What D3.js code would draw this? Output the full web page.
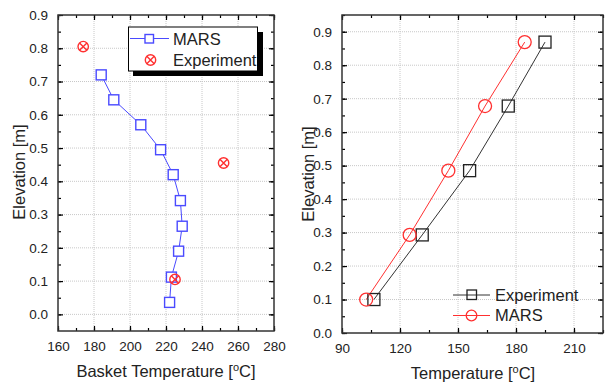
<!DOCTYPE html>
<html lang="en">
<head>
	<meta charset="UTF-8">
	<script src="https://d3js.org/d3.v7.min.js"></script>
	<title>Basket and gas temperature</title>
	<style>
		body { margin: 0; background: #fff; }
		svg { font-family: "Liberation Sans", Arial, sans-serif; }
		.grid line { stroke: #c8c8c8; stroke-dasharray: 1,1; }
	</style>
</head>
<body>
	<svg width="605" height="383"></svg>

	<script>
		// left panel: basket temperature
		const marsBasketT = [184, 191, 206, 217, 224, 228, 229, 227, 223, 222];
		const marsBasketZ = [0.72, 0.645, 0.57, 0.495, 0.42, 0.342, 0.265, 0.19, 0.112, 0.036];
		const expBasketT = [174, 252, 225];
		const expBasketZ = [0.805, 0.455, 0.105];
		const leftXTicks = [160, 180, 200, 220, 240, 260, 280];
		const leftYTicks = [0, 0.1, 0.2, 0.3, 0.4, 0.5, 0.6, 0.7, 0.8, 0.9];

		// right panel: temperature
		const expT = [106.5, 131.5, 156, 176, 195];
		const marsT = [102.5, 125, 145, 164, 184.5];
		const elevZ = [0.1, 0.293, 0.485, 0.678, 0.869];
		const rightXTicks = [90, 120, 150, 180, 210];
		const rightYTicks = [0, 0.1, 0.2, 0.3, 0.4, 0.5, 0.6, 0.7, 0.8, 0.9];

		const svg = d3.select('svg');

		function panel(opt) {
			const g = svg.append('g');
			const x = d3.scaleLinear().domain(opt.xDomain).range([opt.left, opt.right]);
			const y = d3.scaleLinear().domain(opt.yDomain).range([opt.bottom, opt.top]);

			// dotted grid
			const grid = g.append('g').attr('class', 'grid');
			grid.selectAll('.gx').data(opt.xTicks.filter(t => x(t) > opt.left + 1 && x(t) < opt.right - 1))
				.enter().append('line')
				.attr('x1', d => x(d)).attr('x2', d => x(d))
				.attr('y1', opt.top).attr('y2', opt.bottom);
			grid.selectAll('.gy').data(opt.yTicks.filter(t => y(t) > opt.top + 1 && y(t) < opt.bottom - 1))
				.enter().append('line')
				.attr('y1', d => y(d)).attr('y2', d => y(d))
				.attr('x1', opt.left).attr('x2', opt.right);

			// axes with inward ticks on all four sides
			const xMinor = d3.range(opt.xDomain[0], opt.xDomain[1] + 0.001, opt.xStep / 2);
			const yMinor = d3.range(0, opt.yDomain[1] + 0.001, 0.05);

			g.append('g').attr('transform', `translate(0,${opt.bottom})`)
				.call(d3.axisBottom(x).tickValues(xMinor).tickSize(-3).tickFormat(''));
			g.append('g').attr('transform', `translate(0,${opt.bottom})`)
				.call(d3.axisBottom(x).tickValues(opt.xTicks).tickSize(-5).tickPadding(10).tickFormat(d3.format('d')));
			g.append('g').attr('transform', `translate(0,${opt.top})`)
				.call(d3.axisTop(x).tickValues(xMinor).tickSize(-3).tickFormat(''));
			g.append('g').attr('transform', `translate(0,${opt.top})`)
				.call(d3.axisTop(x).tickValues(opt.xTicks).tickSize(-5).tickFormat(''));

			g.append('g').attr('transform', `translate(${opt.left},0)`)
				.call(d3.axisLeft(y).tickValues(yMinor).tickSize(-3).tickFormat(''));
			g.append('g').attr('transform', `translate(${opt.left},0)`)
				.call(d3.axisLeft(y).tickValues(opt.yTicks).tickSize(-5).tickPadding(10).tickFormat(d3.format('.1f')));
			g.append('g').attr('transform', `translate(${opt.right},0)`)
				.call(d3.axisRight(y).tickValues(yMinor).tickSize(-3).tickFormat(''));
			g.append('g').attr('transform', `translate(${opt.right},0)`)
				.call(d3.axisRight(y).tickValues(opt.yTicks).tickSize(-5).tickFormat(''));

			g.selectAll('.domain').remove();
			g.selectAll('.tick line').attr('stroke', '#000').attr('stroke-width', 1.2);
			g.selectAll('.tick text').attr('font-size', 13.5).attr('fill', '#222');

			g.append('rect')
				.attr('x', opt.left).attr('y', opt.top)
				.attr('width', opt.right - opt.left).attr('height', opt.bottom - opt.top)
				.attr('fill', 'none').attr('stroke', '#333').attr('stroke-width', 1.5);

			// axis titles
			const xl = g.append('text')
				.attr('x', opt.xLabelX).attr('y', opt.xLabelY)
				.attr('text-anchor', 'middle').attr('font-size', 16.5).attr('fill', '#222');
			xl.append('tspan').text(opt.xLabel + ' [');
			xl.append('tspan').attr('font-size', 11).attr('dy', -6).text('o');
			xl.append('tspan').attr('dy', 6).text('C]');

			g.append('text')
				.attr('transform', `translate(${opt.yLabelX},${opt.yLabelY}) rotate(-90)`)
				.attr('text-anchor', 'middle').attr('font-size', 16.5).attr('fill', '#222')
				.text('Elevation [m]');

			return { g, x, y };
		}

		// ---- left panel
		const L = panel({
			left: 58, right: 274, top: 15, bottom: 331,
			xDomain: [160, 280], yDomain: [-0.05, 0.9], xStep: 20,
			xTicks: leftXTicks, yTicks: leftYTicks,
			xLabel: 'Basket Temperature', xLabelX: 166, xLabelY: 377,
			yLabelX: 25, yLabelY: 172
		});

		const marsBasket = marsBasketT.map((t, i) => [t, marsBasketZ[i]]);
		const blue = '#4a4aff';
		L.g.append('path')
			.datum(marsBasket)
			.attr('fill', 'none').attr('stroke', blue).attr('stroke-width', 1)
			.attr('d', d3.line().x(d => L.x(d[0])).y(d => L.y(d[1])));
		L.g.selectAll('.mb').data(marsBasket).enter().append('rect')
			.attr('x', d => L.x(d[0]) - 5).attr('y', d => L.y(d[1]) - 5)
			.attr('width', 10).attr('height', 10)
			.attr('fill', '#fff').attr('stroke', blue).attr('stroke-width', 1.4);

		function crossCircle(sel, cx, cy) {
			sel.append('circle').attr('cx', cx).attr('cy', cy).attr('r', 5.2)
				.attr('fill', 'none').attr('stroke', '#ff3030').attr('stroke-width', 1.4);
			sel.append('path')
				.attr('d', `M${cx - 3.7},${cy - 3.7}L${cx + 3.7},${cy + 3.7}M${cx + 3.7},${cy - 3.7}L${cx - 3.7},${cy + 3.7}`)
				.attr('stroke', '#ff3030').attr('stroke-width', 1.4);
		}
		expBasketT.forEach((t, i) => crossCircle(L.g, L.x(t), L.y(expBasketZ[i])));

		// legend box with shadow
		const lg = L.g.append('g');
		lg.append('rect').attr('x', 133).attr('y', 32).attr('width', 130).attr('height', 44).attr('fill', '#000');
		lg.append('rect').attr('x', 128.5).attr('y', 27).attr('width', 129).attr('height', 44)
			.attr('fill', '#fff').attr('stroke', '#000').attr('stroke-width', 1);
		lg.append('line').attr('x1', 130).attr('x2', 169).attr('y1', 38.5).attr('y2', 38.5).attr('stroke', blue);
		lg.append('rect').attr('x', 145).attr('y', 34.5).attr('width', 8.5).attr('height', 8.5)
			.attr('fill', '#fff').attr('stroke', blue).attr('stroke-width', 1.4);
		lg.append('text').attr('x', 173).attr('y', 44.5).attr('font-size', 16.5).attr('fill', '#222').text('MARS');
		crossCircle(lg, 150.5, 60);
		lg.append('text').attr('x', 173).attr('y', 65.5).attr('font-size', 16.5).attr('fill', '#222').text('Experiment');

		// ---- right panel
		const R = panel({
			left: 342, right: 603, top: 15, bottom: 333,
			xDomain: [90, 225], yDomain: [0, 0.95], xStep: 30,
			xTicks: rightXTicks, yTicks: rightYTicks,
			xLabel: 'Temperature', xLabelX: 473, xLabelY: 379,
			yLabelX: 314, yLabelY: 174
		});

		const expPts = expT.map((t, i) => [t, elevZ[i]]);
		const marsPts = marsT.map((t, i) => [t, elevZ[i]]);
		const lineR = d3.line().x(d => R.x(d[0])).y(d => R.y(d[1]));

		R.g.append('path').datum(expPts).attr('fill', 'none').attr('stroke', '#333').attr('stroke-width', 1).attr('d', lineR);
		R.g.append('path').datum(marsPts).attr('fill', 'none').attr('stroke', '#ff3030').attr('stroke-width', 1).attr('d', lineR);

		R.g.selectAll('.es').data(expPts).enter().append('rect')
			.attr('x', d => R.x(d[0]) - 6).attr('y', d => R.y(d[1]) - 6)
			.attr('width', 12).attr('height', 12)
			.attr('fill', 'none').attr('stroke', '#222').attr('stroke-width', 1.3);
		R.g.selectAll('.mc').data(marsPts).enter().append('circle')
			.attr('cx', d => R.x(d[0])).attr('cy', d => R.y(d[1])).attr('r', 6.5)
			.attr('fill', 'none').attr('stroke', '#ff3030').attr('stroke-width', 1.3);

		// legend
		const rg = R.g.append('g');
		rg.append('line').attr('x1', 453).attr('x2', 490).attr('y1', 295).attr('y2', 295).attr('stroke', '#333');
		rg.append('rect').attr('x', 467).attr('y', 290).attr('width', 9.5).attr('height', 9.5)
			.attr('fill', 'none').attr('stroke', '#222').attr('stroke-width', 1.3);
		rg.append('text').attr('x', 495).attr('y', 300.5).attr('font-size', 16.5).attr('fill', '#222').text('Experiment');
		rg.append('line').attr('x1', 453).attr('x2', 490).attr('y1', 315.5).attr('y2', 315.5).attr('stroke', '#ff3030');
		rg.append('circle').attr('cx', 471.5).attr('cy', 315.5).attr('r', 5.3)
			.attr('fill', 'none').attr('stroke', '#ff3030').attr('stroke-width', 1.3);
		rg.append('text').attr('x', 495).attr('y', 321).attr('font-size', 16.5).attr('fill', '#222').text('MARS');
	</script>
</body>
</html>
